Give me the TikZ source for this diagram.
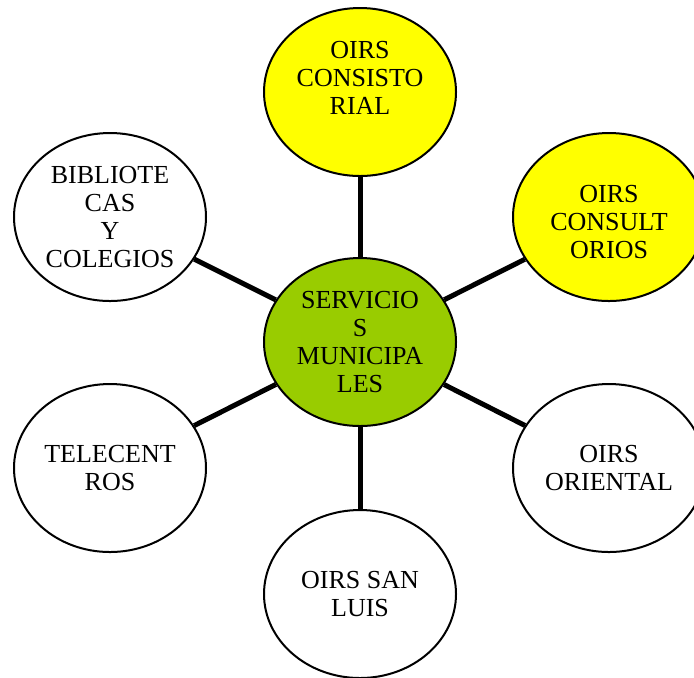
\documentclass[tikz,border=0pt]{standalone}
\usepackage{fontspec}
\setmainfont{Liberation Serif}
\usepackage{tikz}
\usetikzlibrary{shapes.geometric}
\definecolor{hubgreen}{RGB}{153,204,0}
\definecolor{oirsyellow}{RGB}{255,255,0}

\begin{document}
\begin{tikzpicture}[x=0.5pt, y=-0.5pt, line width=2.5pt,
		block/.style ={ellipse, draw = black, line width=1pt, fill=white, align = center,
			inner sep=0pt, minimum width=96pt, minimum height=84pt,
			font=\fontsize{13}{14}\selectfont}]
		\clip (0,0) rectangle (694,677);
		\def\cx{360};
		\def\cy{342};
		\node[block, fill=hubgreen] (serv) at (\cx,\cy) {SERVICIO\\S\\MUNICIPA\\LES};
		\node[block, fill=oirsyellow] (cons) at (\cx,92) {OIRS\\CONSISTO\\RIAL\\\mbox{}};
		\node[block, fill=oirsyellow] (cult) at (609,217) {\mbox{}\\OIRS\\CONSULT\\ORIOS};
		\node[block] (orie) at (609,468) {OIRS\\ORIENTAL};
		\node[block] (luis) at (\cx,594) {OIRS SAN\\LUIS};
		\node[block] (tele) at (110,468) {TELECENT\\ROS};
		\node[block] (bibl) at (110,217) {BIBLIOTE\\CAS\\Y\\COLEGIOS};
		\draw (serv) -- (cons);
		\draw (serv) -- (cult);
		\draw (serv) -- (orie);
		\draw (serv) -- (luis);
		\draw (serv) -- (tele);
		\draw (serv) -- (bibl);
	\end{tikzpicture}
\end{document}
